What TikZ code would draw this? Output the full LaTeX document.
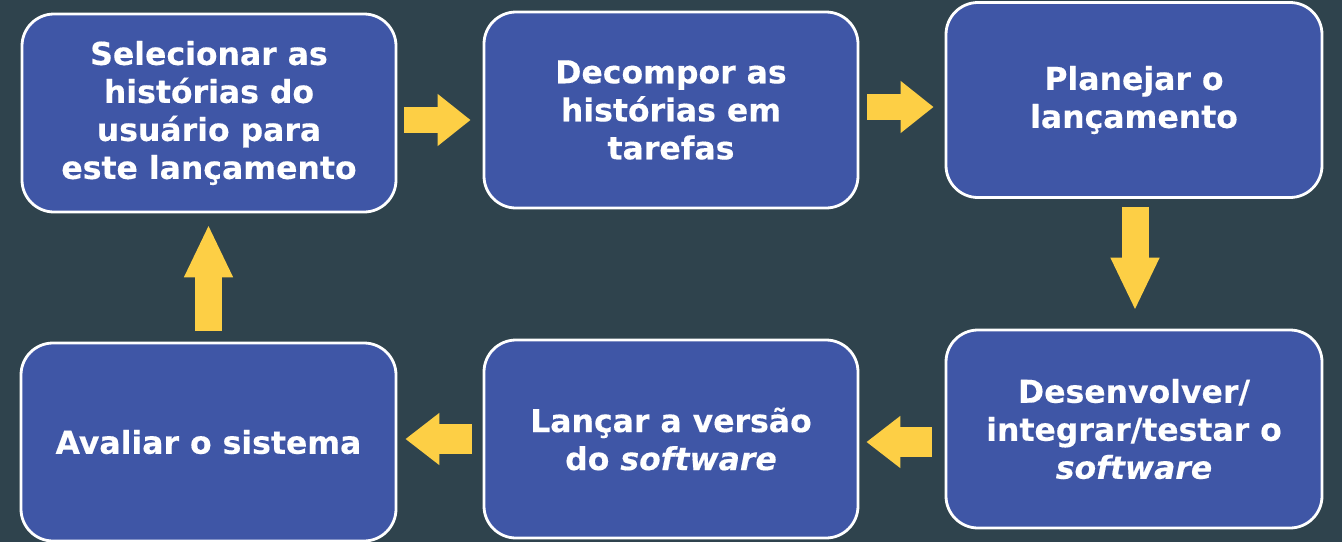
\documentclass[tikz,border=0pt]{standalone}
\usepackage{fontspec}
\setmainfont{DejaVu Sans}[BoldFeatures={FakeBold=0.35},BoldItalicFeatures={FakeBold=0.35}]
\usetikzlibrary{arrows.meta}
\definecolor{bgcol}{HTML}{2F434D}
\definecolor{boxcol}{HTML}{3F56A6}
\definecolor{arrcol}{HTML}{FDCF45}
\begin{document}
\begin{tikzpicture}[x=1pt,y=-1pt,
  stepbox/.style={draw=white, line width=2.8pt, fill=boxcol, rounded corners=32pt,
    inner sep=0pt, text=white, align=center,
    font=\bfseries\fontsize{31.5}{38}\selectfont},
  harrow/.style={draw=arrcol, line width=26pt,
    -{Triangle[length=33pt,width=50pt,fill=arrcol]}},
  varrow/.style={draw=arrcol, line width=27pt,
    -{Triangle[length=53pt,width=45pt,fill=arrcol]}},
  larrow/.style={draw=arrcol, line width=30pt,
    -{Triangle[length=34pt,width=50pt,fill=arrcol]}}
]
\fill[bgcol] (0,0) rectangle (1342,542);
\useasboundingbox (0,0) rectangle (1342,542);

\node[stepbox, minimum width=374pt, minimum height=198pt] (b1) at (209,113)
  {Selecionar as\\histórias do\\usuário para\\este lançamento};
\node[stepbox, minimum width=374pt, minimum height=196pt] (b2) at (671,110)
  {Decompor as\\histórias em\\tarefas};
\node[stepbox, minimum width=376pt, minimum height=195pt] (b3) at (1134,100)
  {Planejar o\\lançamento};
\node[stepbox, minimum width=376pt, minimum height=198pt] (b4) at (1134,429)
  {Desenvolver/\\integrar/testar o\\\textit{software}};
\node[stepbox, minimum width=374pt, minimum height=198pt] (b5) at (671,439)
  {Lançar a versão\\do \textit{software}};
\node[stepbox, minimum width=375pt, minimum height=198pt] (b6) at (208.5,442)
  {Avaliar o sistema};

\draw[harrow, shorten <=7pt, shorten >=12pt]
  ([yshift=-7pt]b1.east) -- ([yshift=-10pt]b2.west);
\draw[harrow, shorten <=8pt, shorten >=11pt]
  ([yshift=3pt]b2.east) -- ([yshift=-7pt]b3.west);
\draw[varrow, shorten <=8pt, shorten >=18pt]
  ([xshift=1pt]b3.south) -- ([xshift=1pt]b4.north);
\draw[larrow, shorten <=13pt, shorten >=7pt]
  ([yshift=-13pt]b4.west) -- ([yshift=-3pt]b5.east);
\draw[larrow, shorten <=11pt, shorten >=8pt]
  (b5.west) -- ([yshift=3pt]b6.east);
\draw[varrow, shorten <=11pt, shorten >=11pt]
  (b6.north) -- ([xshift=-0.5pt]b1.south);
\end{tikzpicture}
\end{document}
